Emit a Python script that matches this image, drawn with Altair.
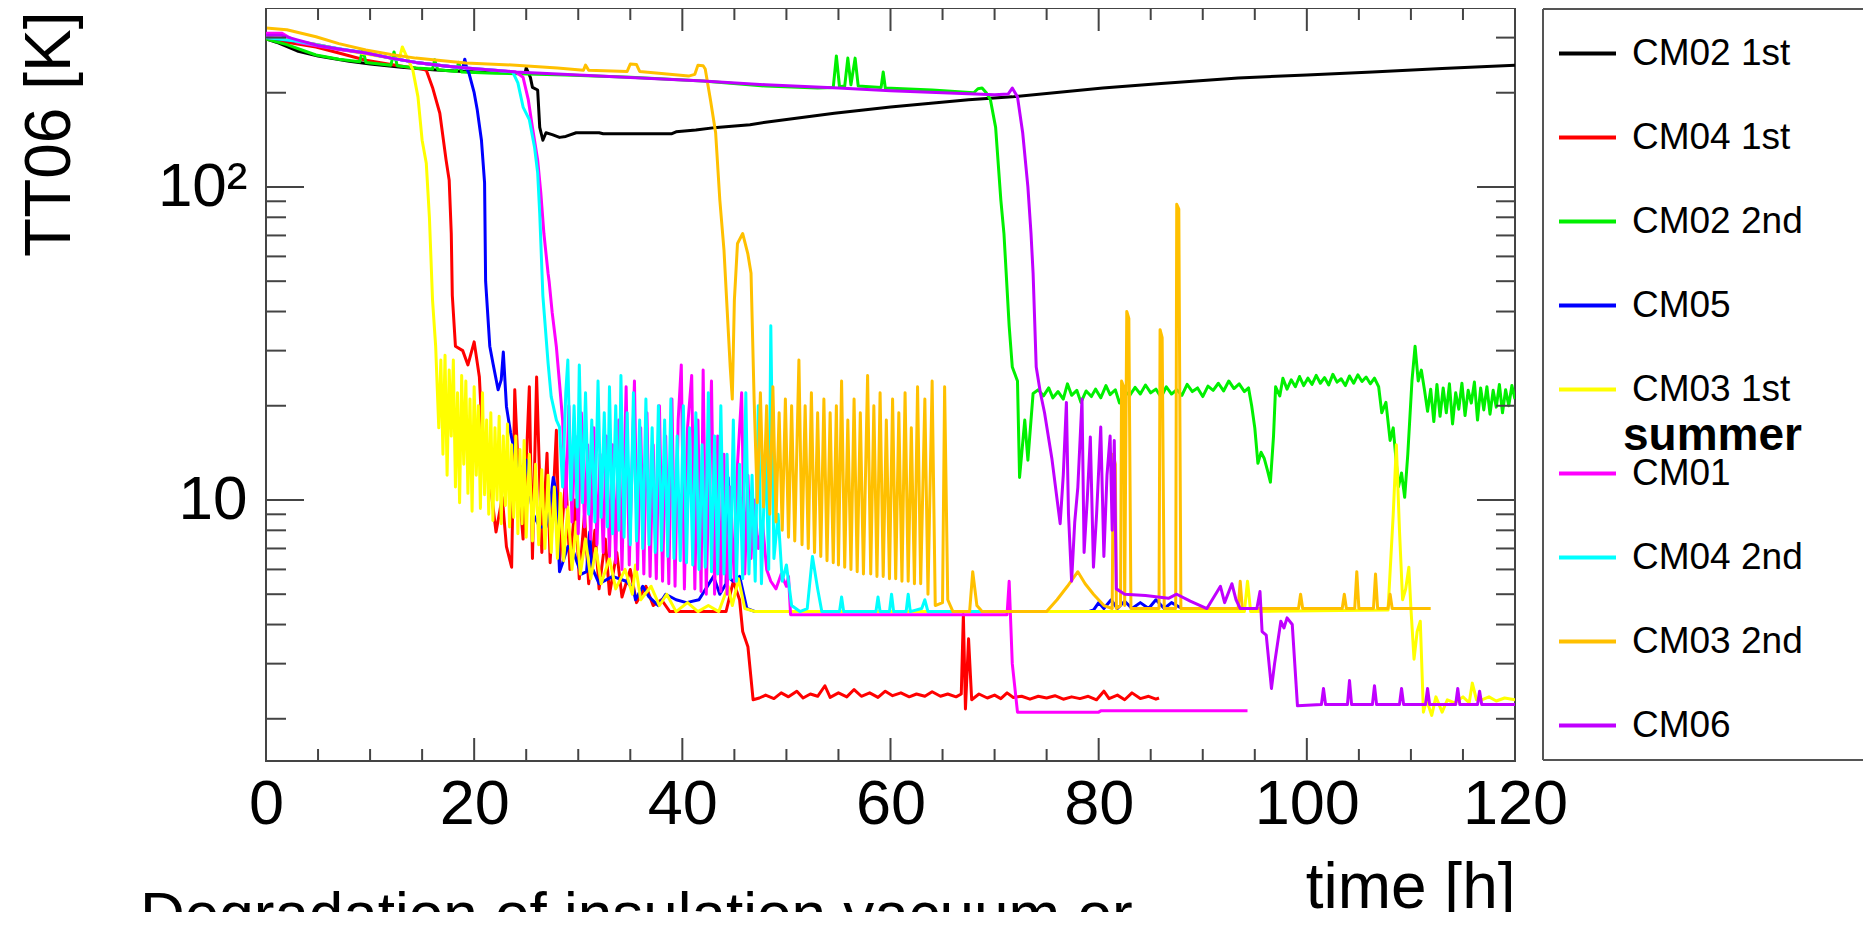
import altair as alt
import pandas as pd

# ---------------- data ----------------
SERIES = ["CM02 1st", "CM04 1st", "CM02 2nd", "CM05", "CM03 1st",
          "CM01", "CM04 2nd", "CM03 2nd", "CM06"]
COLORS = ["#000000", "#ff0000", "#00f000", "#0000ff", "#ffff00",
          "#ff00ff", "#00ffff", "#ffc000", "#c000ff"]

X_LABELS = [0, 20, 40, 60, 80, 100, 120]
Y_LABELS = [10, 100]
X_MAJOR_TICKS = [0, 20, 40, 60, 80, 100, 120]
X_MINOR_TICKS = [5, 10, 15, 25, 30, 35, 45, 50, 55, 65, 70, 75, 85, 90, 95,
                 105, 110, 115]
Y_MAJOR_TICKS = [10, 100]
Y_MINOR_TICKS = [2, 3, 4, 5, 6, 7, 8, 9, 20, 30, 40, 50, 60, 70, 80, 90, 200, 300]

cm02_1st = [(0, 297), (1, 290), (3, 272), (5, 262), (8, 252), (10, 247), (13, 241),
            (16, 237), (19, 234), (22, 232), (24.9, 232), (25.0, 240), (25.2, 232),
            (25.4, 224), (25.6, 208), (26.1, 204), (26.3, 155), (26.6, 141),
            (26.9, 149), (27.5, 147), (28.2, 144), (28.8, 145), (29.8, 149),
            (32, 149), (32.4, 148), (39, 148), (39.4, 150), (41.3, 152), (43.3, 155),
            (46.5, 158), (48, 161), (54.6, 172), (60, 180), (67.5, 190), (71.7, 194),
            (80.4, 207), (86, 214), (93.4, 223), (100, 228), (106.3, 233),
            (113, 239), (120, 245)]

cm04_1st = [(0, 297), (2, 290), (4.8, 280), (7, 268), (9.6, 254), (12, 246),
            (13.4, 242), (15, 238), (15.4, 236), (16.0, 208), (16.7, 172), (17.3, 122),
            (17.6, 105), (17.8, 71), (17.9, 45), (18.2, 31), (18.9, 30), (19.4, 27),
            (20.0, 32), (20.5, 24.7), (20.8, 15.5), (21.5, 11.6), (22.1, 7.9),
            (22.7, 10.2), (23.1, 7.1), (23.6, 6.1), (23.9, 22.5), (24.3, 11),
            (24.7, 7.5), (25.3, 23), (25.6, 6.5), (26.0, 24.7), (26.5, 6.8),
            (27.0, 14.1), (27.3, 6.3), (27.9, 16.7), (28.2, 6.3), (28.8, 12),
            (29.2, 6.0), (29.7, 10), (30.1, 5.6), (30.6, 9), (31.0, 5.4), (31.6, 8),
            (32.0, 5.2), (32.6, 7.5), (33.0, 5.0), (33.7, 6.8), (34.2, 4.9), (35, 6.0),
            (35.6, 4.7), (36.5, 5.3), (37.2, 4.6), (38, 4.8), (38.8, 4.4), (44.2, 4.4),
            (44.9, 5.5), (45.5, 4.8), (45.8, 3.8), (46.3, 3.4), (46.8, 2.3),
            (47.4, 2.33), (48, 2.38), (48.8, 2.32), (49.5, 2.42), (50.2, 2.35),
            (51, 2.45), (51.6, 2.33), (52.3, 2.4), (53, 2.36), (53.7, 2.55),
            (54.2, 2.34), (55, 2.42), (55.8, 2.35), (56.5, 2.48), (57.2, 2.36),
            (58, 2.42), (58.8, 2.34), (59.5, 2.45), (60.2, 2.37), (61, 2.42),
            (61.8, 2.35), (62.5, 2.4), (63.3, 2.36), (64, 2.44), (64.8, 2.36),
            (65.5, 2.4), (66.3, 2.35), (66.8, 2.4), (67.0, 4.3), (67.2, 2.15),
            (67.5, 3.6), (67.8, 2.3), (68.5, 2.4), (69.3, 2.33), (70, 2.38),
            (70.6, 2.32), (71.2, 2.42), (71.8, 2.34), (72.6, 2.36), (73.4, 2.31),
            (74.2, 2.36), (75, 2.33), (75.8, 2.37), (76.6, 2.31), (77.4, 2.35),
            (78.2, 2.32), (79, 2.36), (79.8, 2.3), (80.5, 2.45), (81, 2.32),
            (81.8, 2.38), (82.5, 2.3), (83.2, 2.42), (84, 2.32), (84.8, 2.36),
            (85.5, 2.31), (85.8, 2.33)]

cm02_2nd = [(0, 297), (2, 285), (4.8, 264), (7, 256), (9.0, 251), (9.3, 275),
            (9.6, 250), (12, 245), (12.3, 270), (12.6, 244), (14.4, 240), (16, 238),
            (16.2, 255), (16.5, 237), (18.3, 234), (18.5, 250), (18.8, 233), (22, 231),
            (28.8, 228), (35, 224), (42, 218), (48, 210), (53, 207), (54.5, 208),
            (54.8, 262), (55.1, 209), (55.6, 210), (55.9, 258), (56.2, 212),
            (56.6, 258), (56.9, 210), (59.1, 208), (59.3, 233), (59.5, 207), (64, 204),
            (68, 200), (68.4, 206), (68.8, 207), (69.2, 200), (69.6, 190), (70.1, 155),
            (70.6, 91), (70.9, 71), (71.4, 36), (71.7, 26.6), (72.2, 24), (72.4, 11.8),
            (72.9, 18), (73.2, 13.4), (73.7, 21.9), (74.2, 22.5), (74.7, 21.5),
            (75.2, 22.8), (75.6, 21.2), (76.1, 22.2), (76.6, 21.0), (77, 23.5),
            (77.4, 21.6), (77.9, 22.4), (78.3, 20.5), (78.8, 22.3), (79.3, 21.4),
            (79.7, 22.6), (80.2, 21.2), (80.7, 23.2), (81.1, 21.7), (81.6, 22.5),
            (82, 20.4), (82.5, 22.2), (83, 21.6), (83.5, 22.9), (84, 21.8),
            (84.5, 23.3), (85, 22), (85.5, 22.6), (86, 21.3), (86.5, 23), (87, 21.8),
            (87.5, 22.5), (88, 21.6), (88.5, 23.4), (89, 22.2), (89.5, 22.8),
            (90, 21.4), (90.5, 23.1), (91, 22.4), (91.5, 23.6), (92, 22.3), (92.5, 24),
            (93, 22.7), (93.5, 23.5), (94, 22.2), (94.4, 22.8), (94.7, 20), (95, 17),
            (95.3, 13.1), (95.6, 14.2), (95.9, 13.6), (96.2, 12.5), (96.5, 11.4),
            (96.8, 16), (97, 23), (97.4, 21.5), (97.7, 24.5), (98.1, 22.6),
            (98.5, 24.2), (98.9, 23), (99.3, 24.8), (99.7, 23.2), (100.1, 24.5),
            (100.5, 23.4), (100.9, 25), (101.3, 23.6), (101.7, 24.6), (102.1, 23.3),
            (102.5, 25.2), (102.9, 23.8), (103.3, 24.4), (103.7, 23.2), (104.1, 24.9),
            (104.5, 23.6), (104.9, 25.1), (105.3, 23.9), (105.7, 24.7), (106.1, 23.5),
            (106.5, 24.5), (106.9, 23), (107.2, 19), (107.6, 20.5), (108, 15.5),
            (108.3, 17), (108.8, 11), (109.1, 12.2), (109.4, 10.2), (109.7, 14),
            (110.1, 24), (110.4, 31), (110.7, 24), (111, 26), (111.3, 22.5),
            (111.6, 19.2), (111.9, 22.6), (112.2, 17.8), (112.5, 23.4), (112.8, 18.5),
            (113.1, 22.8), (113.4, 19), (113.7, 23.5), (114, 17.5), (114.3, 22),
            (114.6, 19.5), (114.9, 23.6), (115.2, 18.6), (115.5, 22.4), (115.8, 20.4),
            (116.1, 23.8), (116.4, 18), (116.7, 22.8), (117, 19.4), (117.3, 23),
            (117.6, 18.8), (117.9, 22.4), (118.2, 19.8), (118.5, 23.4), (118.8, 19),
            (119.1, 22.5), (119.4, 20), (119.7, 23.2), (120, 21)]

cm05 = [(0, 300), (2, 295), (4.8, 285), (7, 276), (9.6, 268), (12, 258), (14.4, 250),
        (17, 244), (18.9, 240), (19.1, 256), (19.3, 238), (19.5, 231), (20.0, 200),
        (20.3, 176), (20.7, 141), (21.0, 103), (21.1, 50), (21.5, 31), (21.8, 27.4),
        (22.3, 22.5), (22.6, 24.2), (22.8, 29.7), (23.1, 19.9), (23.5, 16.4),
        (24.3, 12.2), (25.0, 13.4), (25.6, 9.1), (26.3, 8.2), (26.9, 8.2), (27.2, 9.1),
        (27.6, 11.8), (27.9, 10.5), (28.2, 5.9), (28.5, 6.3), (29.0, 7.1), (29.5, 6.9),
        (29.9, 6.3), (30.3, 5.8), (30.8, 5.9), (31.1, 7.9), (31.3, 6.1), (31.7, 5.7),
        (32.0, 5.4), (33.3, 5.7), (34.6, 5.5), (35.3, 5.2), (35.5, 4.8), (36.2, 5.3),
        (36.8, 4.9), (37.7, 4.6), (38.4, 5.0), (39.4, 4.8), (40.4, 4.7), (41.6, 4.8),
        (43, 5.7), (43.6, 5.0), (44.2, 5.4), (44.4, 11.8), (44.6, 5.6), (44.9, 5.5),
        (45.5, 5.7), (46.2, 4.5), (47, 4.4), (79, 4.4), (79.5, 4.45), (80, 4.7),
        (80.5, 4.5), (81.2, 4.8), (81.8, 4.5), (82.5, 4.75), (83.2, 4.5), (84, 4.7),
        (84.8, 4.5), (85.5, 4.8), (86.3, 4.5), (87, 4.7), (88, 4.5)]

cm03_1st = [(0, 300), (2, 297), (4.8, 285), (7, 276), (9.6, 266), (12, 258),
            (12.8, 256), (13.1, 280), (13.5, 262), (14.1, 237), (14.6, 194), (15.0, 141),
            (15.4, 119), (15.7, 80), (16.0, 43.5), (16.3, 31), (16.6, 17), (16.8, 28),
            (17.0, 14), (17.2, 29), (17.4, 12), (17.6, 26), (17.8, 16), (18.0, 28),
            (18.2, 11), (18.4, 22), (18.6, 9.8), (18.8, 25), (19.0, 13), (19.2, 24),
            (19.4, 10.5), (19.6, 21), (19.8, 9.2), (20.0, 23), (20.2, 12), (20.4, 20),
            (20.6, 9.4), (20.8, 22), (21.0, 10.4), (21.2, 18), (21.4, 9), (21.6, 19),
            (21.8, 8.6), (22.0, 17), (22.2, 10), (22.4, 18.5), (22.6, 8.4), (22.8, 16),
            (23.0, 9.6), (23.2, 17.5), (23.4, 8.2), (23.6, 15), (23.8, 8.8), (24.0, 16),
            (24.2, 7.8), (24.4, 14.5), (24.6, 8.4), (24.8, 15.5), (25.0, 7.6),
            (25.3, 14), (25.6, 7.4), (25.9, 13), (26.2, 7.2), (26.5, 12.5), (26.8, 7.0),
            (27.1, 12), (27.4, 6.8), (27.7, 11), (28.0, 6.5), (28.3, 10.5), (28.6, 6.4),
            (29.0, 9.5), (29.4, 6.0), (29.8, 8.5), (30.2, 5.8), (30.7, 7.5), (31.2, 5.6),
            (31.7, 7.0), (32.2, 5.4), (33, 6.5), (33.6, 5.2), (34.5, 6.0), (35.2, 5.0),
            (35.5, 6.2), (36, 4.8), (37, 5.3), (37.8, 4.6), (38.5, 5.0), (39.4, 4.4),
            (40.5, 4.7), (41.5, 4.4), (42.5, 4.6), (43.5, 4.4), (44.4, 5.3), (44.8, 4.6),
            (45.4, 5.6), (46, 4.5), (47, 4.4), (94.0, 4.4), (94.3, 5.5), (94.6, 4.4),
            (107.8, 4.45), (108.3, 9), (108.6, 15), (108.9, 8), (109.2, 4.8),
            (109.5, 5.2), (109.8, 6.1), (110.0, 4.5), (110.3, 3.1), (110.6, 3.8),
            (110.9, 4.1), (111.2, 2.1), (111.5, 2.3), (112, 2.05), (112.4, 2.35),
            (113, 2.1), (113.5, 2.3), (114.2, 2.25), (115, 2.35), (115.6, 2.25),
            (115.9, 2.6), (116.3, 2.3), (116.8, 2.3), (117.5, 2.35), (118.2, 2.28),
            (119, 2.33), (120, 2.3)]

cm01 = [(0, 310), (1.5, 310), (3, 290), (5, 282), (7, 275), (9.6, 268), (12, 258),
        (14.4, 250), (17, 244), (19.2, 240), (22, 236), (24, 233), (24.7, 224),
        (25.2, 190), (25.6, 155), (26.1, 122), (26.4, 96), (26.7, 71), (27.1, 53),
        (27.2, 50), (27.5, 39.6), (27.9, 30.8), (28.2, 23.6), (28.5, 18), (28.8, 9.5),
        (29.1, 20), (29.4, 8.5), (29.7, 16), (30.0, 7.8), (30.3, 19), (30.6, 8.2),
        (30.9, 15), (31.2, 7.5), (31.5, 17), (31.8, 7.2), (32.1, 14), (32.4, 6.8),
        (32.7, 16), (33.0, 6.6), (33.3, 15), (33.6, 6.3), (33.9, 18), (34.2, 6.0),
        (34.6, 23), (34.9, 6.2), (35.4, 24), (35.7, 6.0), (36.0, 17), (36.3, 5.8),
        (36.6, 19), (36.9, 5.7), (37.2, 15), (37.5, 5.6), (37.8, 20), (38.1, 5.5),
        (38.4, 16), (38.7, 5.4), (39.0, 21), (39.3, 5.3), (39.6, 18), (39.9, 27),
        (40.2, 5.2), (40.5, 17), (40.9, 25), (41.2, 5.2), (41.5, 18), (41.8, 5.1),
        (42.0, 26), (42.3, 5.0), (42.6, 14), (42.8, 24), (43.1, 5.0), (43.4, 16),
        (43.7, 5.1), (44.0, 14), (44.3, 5.0), (44.6, 11), (45.0, 5.5), (45.3, 13),
        (45.7, 22), (46.0, 5.8), (46.3, 12), (46.6, 6.5), (46.9, 10), (47.3, 7),
        (47.7, 8.5), (48.1, 6), (48.5, 5.5), (49, 5.2), (49.5, 5.8), (50.0, 5.3),
        (50.2, 5.7), (50.4, 4.3), (71.2, 4.3), (71.4, 5.5), (71.7, 3.0), (72.2, 2.1),
        (80, 2.1), (80.2, 2.12), (94.3, 2.12)]

cm04_2nd = [(0, 300), (3, 292), (6, 280), (9.6, 268), (12, 258), (14.4, 250),
            (17, 244), (19.2, 240), (22, 236), (23.7, 233), (24.2, 215), (24.7, 180),
            (25.3, 164), (25.8, 134), (26.1, 111), (26.3, 82), (26.6, 45), (27.1, 27.4),
            (27.4, 21.4), (27.9, 18), (28.2, 17.1), (28.5, 11), (28.8, 22), (29.0, 28),
            (29.3, 10), (29.6, 20), (29.9, 9.5), (30.1, 27), (30.4, 9.8), (30.7, 22),
            (31.0, 9), (31.3, 18), (31.6, 8.5), (31.9, 24), (32.2, 8.8), (32.5, 19),
            (32.8, 8.2), (33.0, 23), (33.3, 7.8), (33.6, 20), (33.9, 8), (34.1, 25),
            (34.4, 7.6), (34.7, 19), (35.0, 7.2), (35.3, 22), (35.6, 7.4), (35.9, 18),
            (36.2, 7.0), (36.5, 21), (36.8, 7.2), (37.1, 17), (37.4, 6.8), (37.7, 20),
            (38.0, 6.9), (38.3, 18), (38.6, 6.6), (38.9, 21), (39.2, 6.5), (39.5, 16),
            (39.8, 6.4), (40.1, 20), (40.4, 6.3), (40.7, 17), (41.0, 6.2), (41.3, 19),
            (41.6, 6.0), (41.9, 15), (42.2, 6.1), (42.5, 22), (42.8, 5.9), (43.1, 16),
            (43.4, 5.8), (43.7, 20), (44.0, 5.8), (44.3, 14), (44.6, 5.6), (44.9, 18),
            (45.2, 5.5), (45.5, 13), (45.8, 5.6), (46.1, 22), (46.4, 5.8), (46.7, 12),
            (47.0, 5.5), (47.3, 20), (47.6, 5.4), (48.0, 15), (48.3, 6), (48.5, 36),
            (48.8, 6.5), (49.2, 9), (49.6, 5.5), (50.0, 6.2), (50.5, 4.6), (51.3, 4.4),
            (52.0, 4.5), (52.5, 6.6), (53.0, 5.2), (53.4, 4.4), (55.1, 4.4), (55.3, 4.9),
            (55.5, 4.4), (58.6, 4.4), (58.8, 4.9), (59.0, 4.4), (59.9, 4.4), (60.1, 5.0),
            (60.3, 4.4), (61.5, 4.4), (61.7, 5.0), (61.9, 4.4), (63.0, 4.5), (63.3, 4.8),
            (63.6, 4.4), (70, 4.4)]

cm03_2nd = [(0, 322), (2, 318), (4.8, 302), (7, 287), (9.6, 274), (12, 265),
            (14.4, 258), (17, 253), (19.2, 249), (24, 245), (28, 240), (30.5, 236),
            (30.7, 245), (31.0, 236), (34.7, 234), (35.0, 247), (35.6, 246), (35.9, 234),
            (40.6, 226), (41.2, 229), (41.5, 245), (42.0, 244), (42.2, 238), (42.7, 190),
            (43.2, 149), (43.6, 91), (44.0, 63), (44.6, 26.6), (44.8, 21), (45.0, 43.5),
            (45.3, 66), (45.8, 71), (46.3, 61), (46.6, 53), (46.9, 20.8), (47.2, 9.8),
            (47.5, 22), (47.8, 9.5), (48.1, 20), (48.4, 9), (48.7, 23), (49.0, 8.5),
            (49.3, 19), (49.6, 8), (49.9, 21), (50.2, 7.6), (50.5, 20), (50.8, 7.4),
            (51.2, 28), (51.5, 7.2), (51.8, 20), (52.1, 7), (52.4, 22), (52.7, 6.8),
            (53.0, 19), (53.3, 6.6), (53.6, 21), (53.9, 6.4), (54.2, 19), (54.5, 6.3),
            (54.8, 20), (55.0, 6.2), (55.3, 24), (55.6, 6.1), (55.9, 18), (56.2, 6.0),
            (56.5, 21), (56.8, 5.9), (57.1, 19), (57.4, 5.8), (57.8, 25), (58.1, 5.8),
            (58.4, 20), (58.7, 5.7), (59.0, 22), (59.3, 5.7), (59.6, 18), (59.9, 5.6),
            (60.2, 21), (60.5, 5.6), (60.8, 19), (61.1, 5.5), (61.4, 22), (61.7, 5.5),
            (62.0, 17), (62.3, 5.4), (62.6, 23), (62.9, 5.4), (63.3, 21), (63.6, 5.0),
            (64.0, 24), (64.3, 4.6), (65.0, 4.7), (65.2, 23), (65.5, 4.8), (66, 4.4),
            (67.6, 4.4), (67.9, 5.9), (68.3, 4.6), (68.8, 4.4), (75, 4.4), (76, 4.8),
            (77, 5.3), (78, 5.9), (78.7, 5.4), (79.5, 5.0), (80.5, 4.6), (81.3, 4.5),
            (81.4, 14), (81.6, 13), (81.7, 4.5), (82.1, 4.6), (82.2, 24), (82.4, 23),
            (82.5, 4.6), (82.7, 40), (82.9, 38), (83.1, 4.5), (85.8, 4.5), (85.9, 35),
            (86.1, 33), (86.3, 4.5), (87.4, 4.5), (87.5, 88), (87.7, 85), (87.9, 4.5),
            (93.4, 4.5), (93.6, 5.5), (93.8, 4.5), (99.2, 4.5), (99.4, 5.0), (99.6, 4.5),
            (103.4, 4.5), (103.6, 5.0), (103.8, 4.5), (104.6, 4.5), (104.8, 5.9),
            (105, 4.5), (106.4, 4.5), (106.6, 5.8), (106.8, 4.5), (107.8, 4.5),
            (108.0, 5.0), (108.2, 4.5), (111.9, 4.5)]

cm06 = [(0, 305), (1.5, 305), (3, 295), (5, 283), (7, 276), (9.6, 268), (12, 258),
        (14.4, 250), (17, 244), (19.2, 240), (24, 233), (30, 228), (36, 223), (42, 218),
        (48, 212), (55, 207), (60, 203), (65, 200), (70, 197), (71.3, 198), (71.7, 207),
        (72.2, 194), (72.7, 149), (73.2, 100), (73.5, 71), (73.7, 53), (74.0, 26.6),
        (74.4, 22), (74.8, 19), (75.5, 13.6), (76.3, 8.4), (76.6, 12), (76.9, 20.5),
        (77.1, 9), (77.4, 5.5), (77.7, 8.5), (78.0, 11), (78.4, 21), (78.6, 6.8),
        (78.9, 10), (79.2, 15.9), (79.5, 6.1), (79.8, 9), (80.2, 17.1), (80.5, 6.6),
        (80.8, 12), (81.1, 16), (81.3, 8), (81.5, 15.5), (81.7, 5.2), (82.5, 5.0),
        (84.5, 4.95), (86.7, 4.85), (87.5, 5.0), (88.8, 4.75), (90.4, 4.5),
        (91.7, 5.3), (92.1, 4.7), (92.8, 5.4), (93.2, 4.8), (93.6, 4.5), (95.2, 4.5),
        (95.5, 5.1), (95.7, 3.8), (96.1, 3.7), (96.6, 2.5), (96.9, 3.0), (97.5, 4.1),
        (97.8, 3.9), (98.1, 4.2), (98.6, 4.0), (99.1, 2.2), (101.4, 2.22),
        (101.6, 2.5), (101.8, 2.22), (103.9, 2.22), (104.1, 2.65), (104.3, 2.22),
        (106.3, 2.22), (106.5, 2.55), (106.7, 2.22), (108.9, 2.22), (109.1, 2.5),
        (109.3, 2.22), (111.4, 2.22), (111.6, 2.5), (111.8, 2.22), (114.3, 2.22),
        (114.5, 2.5), (114.7, 2.22), (116.4, 2.22), (116.6, 2.45), (116.8, 2.22),
        (120, 2.22)]

ANNOTATION = ["summer"]
FOOTNOTE = ["Degradation of insulation vacuum or"]

# ---------------- build ----------------
FONT = "Liberation Sans"
W, H = 1249, 753
xs = alt.Scale(domain=[0, 120], nice=False, zero=False)
ys = alt.Scale(type="log", domain=[1.466, 373], nice=False)

X_AXIS = alt.Axis(
    values=X_LABELS, ticks=False, domain=False, grid=False,
    labelFont=FONT, labelFontSize=63, labelColor="black", labelPadding=12,
    labelFlush=False, labelOverlap=False,
    title="time [h]", titleFont=FONT, titleFontSize=64, titleFontWeight="normal",
    titleColor="black", titleAlign="right", titleBaseline="alphabetic",
    titleX=W, titleY=146)
Y_AXIS = alt.Axis(
    values=Y_LABELS, labelExpr="datum.value == 100 ? '10\u00b2' : '10'",
    ticks=False, domain=False, grid=False,
    labelFont=FONT, labelFontSize=62, labelColor="black", labelPadding=19,
    labelBaseline="middle", labelOverlap=False,
    title="TT06 [K]", titleFont=FONT, titleFontSize=64, titleFontWeight="normal",
    titleColor="black", titleAngle=270, titleAlign="right",
    titleBaseline="alphabetic", titleX=-197, titleY=3)

rows = []
for name, pts in zip(SERIES, [cm02_1st, cm04_1st, cm02_2nd, cm05, cm03_1st,
                              cm01, cm04_2nd, cm03_2nd, cm06]):
    for t, T in pts:
        rows.append({"series": name, "t": t, "T": T})
df = pd.DataFrame(rows)

lines = alt.Chart(df).mark_line(strokeWidth=3, strokeJoin="round", clip=True).encode(
    x=alt.X("t:Q", scale=xs, axis=X_AXIS),
    y=alt.Y("T:Q", scale=ys, axis=Y_AXIS),
    color=alt.Color("series:N", scale=alt.Scale(domain=SERIES, range=COLORS),
                    legend=alt.Legend(
                        title=None, orient="none", legendX=1277, legendY=1,
                        direction="vertical", symbolType="stroke", symbolSize=3249,
                        symbolStrokeWidth=4, labelFont=FONT, labelFontSize=37,
                        labelColor="black", labelOffset=14, labelLimit=600,
                        rowPadding=35, padding=14)),
)


def xtick_layer(vals, length, top):
    enc = dict(x=alt.X("t:Q", scale=xs, axis=X_AXIS))
    if top:
        enc.update(y=alt.value(0), y2=alt.value(length))
    else:
        enc.update(y=alt.value(H), y2=alt.value(H - length))
    return alt.Chart(pd.DataFrame({"t": vals})).mark_rule(
        color="#444444", strokeWidth=2).encode(**enc)


def ytick_layer(vals, length, right):
    enc = dict(y=alt.Y("T:Q", scale=ys, axis=Y_AXIS))
    if right:
        enc.update(x=alt.value(W - length), x2=alt.value(W))
    else:
        enc.update(x=alt.value(0), x2=alt.value(length))
    return alt.Chart(pd.DataFrame({"T": vals})).mark_rule(
        color="#444444", strokeWidth=2).encode(**enc)


ticks = [
    xtick_layer(X_MAJOR_TICKS, 23, False), xtick_layer(X_MINOR_TICKS, 12, False),
    xtick_layer(X_MAJOR_TICKS, 23, True), xtick_layer(X_MINOR_TICKS, 12, True),
    ytick_layer(Y_MAJOR_TICKS, 38, False), ytick_layer(Y_MINOR_TICKS, 20, False),
    ytick_layer(Y_MAJOR_TICKS, 38, True), ytick_layer(Y_MINOR_TICKS, 19, True),
]

# legend frame (left, top and bottom sides only: it runs past the picture edge)
one = pd.DataFrame({"k": [0]})
frame_style = dict(color="#555555", strokeWidth=2)
frame_left = alt.Chart(one).mark_rule(**frame_style).encode(
    x=alt.value(1277), y=alt.value(1), y2=alt.value(752))
frame_top = alt.Chart(one).mark_rule(**frame_style).encode(
    x=alt.value(1277), x2=alt.value(1620), y=alt.value(1))
frame_bottom = alt.Chart(one).mark_rule(**frame_style).encode(
    x=alt.value(1277), x2=alt.value(1620), y=alt.value(752))

summer = alt.Chart(pd.DataFrame({"label": ANNOTATION})).mark_text(
    font=FONT, fontSize=46, fontWeight="bold", color="black", align="left",
    baseline="alphabetic").encode(x=alt.value(1357), y=alt.value(442), text="label:N")

footnote = alt.Chart(pd.DataFrame({"label": FOOTNOTE})).mark_text(
    font=FONT, fontSize=62, color="black", align="left",
    baseline="alphabetic").encode(x=alt.value(-126), y=alt.value(927), text="label:N")

chart = alt.layer(lines, *ticks, frame_left, frame_top, frame_bottom,
                  summer, footnote).properties(
    width=W, height=H,
    autosize=alt.AutoSizeParams(type="none"),
    padding={"left": 258, "top": 0, "right": 348, "bottom": 151},
).configure(font=FONT).configure_view(stroke="#444444", strokeWidth=2)

chart.save("out.html", embed_options={"renderer": "svg", "actions": False})
